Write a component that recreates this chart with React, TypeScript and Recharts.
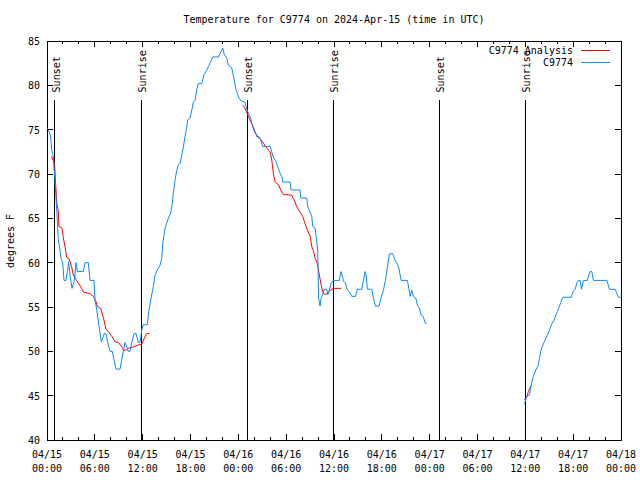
import React from 'react';
import { LineChart, Line, XAxis, YAxis, ReferenceLine, ReferenceArea } from 'recharts';

// plot frame (pixels) - matches the gnuplot page layout
const W = 640;
const H = 480;
const PLOT_LEFT = 47;
const PLOT_RIGHT = 621;
const PLOT_TOP = 41;
const PLOT_BOTTOM = 440;

const FONT = '"DejaVu Sans Mono", monospace';
const RED = '#ff0000';
const BLUE = '#0a88ff';

// hours since 04/15 00:00 UTC, degrees F
const analysisMorning: [number, number][] = [
    [0.55, 72], [0.95, 71.2], [1.1, 68.6], [1.25, 66.5], [1.42, 65.9], [1.5, 64.1], [1.88, 63.9],
    [2.05, 62.8], [2.26, 61.8], [2.47, 60.6], [2.8, 60.4], [3.1, 59.5], [3.3, 58.6], [3.64, 58.1],
    [3.93, 57.7], [4.35, 57.1], [4.55, 56.7], [5.4, 56.5], [5.81, 56.2], [6.15, 55.6], [6.31, 55.1],
    [6.74, 54.8], [7.07, 53.8], [7.4, 52.5], [7.69, 52.2], [8.12, 51.7], [8.53, 51.1], [8.95, 51],
    [9.37, 50.5], [9.66, 50.1], [10.0, 50.2], [10.33, 50.4], [10.83, 50.5], [11.38, 50.7],
    [11.88, 50.8], [12.17, 51.4], [12.5, 52], [12.84, 52],
];

const analysisEvening: [number, number][] = [
    [24.55, 77.8], [24.84, 77.4], [25.13, 76.8], [25.34, 76.3], [25.68, 75.7], [26.01, 74.8],
    [26.44, 74.2], [26.73, 74], [27.14, 73.5], [27.57, 72.9], [27.98, 72.5], [28.19, 71.6],
    [28.39, 70.1], [28.61, 69.1], [29.02, 68.8], [29.32, 68.2], [29.65, 67.7], [30.7, 67.6],
    [30.99, 67.1], [31.33, 66.3], [31.74, 65.7], [32.08, 65.2], [32.37, 64.4], [32.66, 63.7],
    [33.0, 63], [33.21, 61.8], [33.41, 61.4], [33.63, 60.5], [33.91, 59.9], [34.13, 58.8],
    [34.34, 57.7], [34.59, 56.7], [34.88, 56.4], [35.09, 56.5], [35.29, 56.7], [35.72, 57],
    [35.92, 57.1], [36.89, 57.1],
];

const analysisDay3: [number, number][] = [
    [59.89, 44.5], [60.19, 44.9], [60.39, 45.5], [60.69, 46.1], [60.82, 46.1],
];

const obsDays12: [number, number][] = [
    [0.0, 75.2], [0.25, 74.8], [0.46, 74.2], [0.59, 72.7], [0.79, 72], [0.88, 70.6], [1.0, 69.3],
    [1.09, 67.9], [1.29, 64.8], [1.42, 62.6], [1.63, 61.4], [1.76, 60.5], [1.97, 60], [2.13, 58],
    [2.38, 58], [2.55, 59], [2.72, 60.1], [2.89, 58.5], [3.14, 57.1], [3.43, 58], [3.64, 60],
    [3.8, 59], [4.55, 59], [4.77, 60], [5.18, 60], [5.4, 58], [5.9, 58], [6.02, 55.8],
    [6.24, 54.7], [6.56, 52.6], [6.81, 51.1], [6.99, 51.5], [7.19, 52], [7.4, 52], [7.62, 51],
    [7.9, 50], [8.19, 50], [8.41, 49], [8.66, 48], [9.16, 48], [9.37, 49], [9.57, 50], [9.79, 51],
    [10.0, 50.5], [10.2, 50], [10.41, 50], [10.63, 51], [10.92, 52], [11.17, 52], [11.46, 51],
    [11.67, 51], [11.88, 52.4], [12.08, 53], [12.58, 53], [12.8, 54.7], [13.01, 55.8],
    [13.34, 57.3], [13.55, 58.6], [13.84, 59.2], [14.18, 59.7], [14.39, 60.5], [14.52, 62.2],
    [14.81, 63.9], [15.22, 65], [15.52, 65.6], [15.72, 66.7], [15.85, 67.9], [16.06, 69.3],
    [16.27, 70.4], [16.47, 71], [16.69, 71.2], [16.9, 72.1], [17.1, 73], [17.31, 74.2],
    [17.53, 75.3], [17.65, 76.1], [17.94, 76.3], [18.16, 77.2], [18.36, 78.1], [18.57, 78.3],
    [18.78, 79.5], [18.98, 80.2], [19.41, 80.2], [19.7, 81.2], [20.04, 81.7], [20.24, 82.1],
    [20.45, 82.5], [20.79, 83.2], [21.49, 83.2], [21.71, 83.6], [22.05, 84.2], [22.25, 83.4],
    [22.55, 83.1], [22.75, 82.3], [23.17, 82], [23.38, 81], [23.71, 79.5], [23.88, 79.1],
    [24.13, 78.5], [24.43, 78.2], [24.84, 78.1], [25.13, 77.1], [25.34, 76.7], [25.56, 76.3],
    [25.68, 75.7], [25.88, 75.3], [26.1, 74.8], [26.31, 74.2], [26.6, 74.2], [26.81, 73.8],
    [27.06, 73.1], [27.98, 73.1], [28.19, 72.5], [28.39, 71.9], [28.73, 71.4], [29.02, 70.6],
    [29.23, 70.1], [29.45, 69.7], [29.57, 69.1], [30.49, 69.1], [30.61, 68.2], [31.74, 68.2],
    [31.83, 67.3], [32.58, 67.3], [32.71, 66.3], [33.0, 65.7], [33.21, 65.2], [33.34, 64.1],
    [33.63, 63.9], [33.75, 63], [33.96, 61.4], [34.06, 56], [34.25, 55.1], [34.38, 56],
    [34.59, 56.4], [34.76, 57], [35.09, 57], [35.22, 56.4], [35.42, 56.9], [35.63, 57.7],
    [35.92, 58], [36.68, 58], [36.85, 59], [37.01, 58.6], [37.23, 57.9], [37.43, 57.7],
    [37.68, 56.9], [37.93, 56.7], [38.23, 56.2], [38.68, 56.2], [38.93, 57], [39.49, 57],
    [39.69, 58], [39.9, 59], [40.03, 58.6], [40.19, 57], [40.74, 57], [40.94, 56], [41.19, 55.1],
    [41.66, 55.1], [41.87, 56], [42.2, 56.9], [42.45, 58], [42.7, 59.5], [42.95, 61],
    [43.38, 61], [43.63, 60.3], [43.88, 60], [44.13, 59.4], [44.42, 58], [45.21, 58],
    [45.38, 57.1], [45.55, 56.2], [45.76, 56.9], [45.96, 56.2], [46.26, 56], [46.46, 55.2],
    [46.71, 54.9], [46.93, 54.1], [47.21, 53.9], [47.43, 53.2], [47.64, 53.1],
];

const obsDay3: [number, number][] = [
    [59.89, 44.1], [60.19, 44.9], [60.52, 45.1], [60.69, 46], [60.94, 47], [61.14, 47.5],
    [61.36, 48], [61.57, 48.3], [61.77, 49.2], [61.98, 50.2], [62.2, 50.7], [62.4, 51.1],
    [62.7, 51.7], [62.9, 52.1], [63.11, 52.6], [63.32, 53.1], [63.61, 53.5], [63.83, 54.1],
    [64.03, 54.5], [64.24, 55], [64.45, 55.5], [64.7, 56.1], [65.78, 56.1], [65.96, 56.7],
    [66.25, 57], [66.46, 57.7], [66.66, 58], [66.88, 58], [67.04, 57], [67.29, 58], [67.79, 58],
    [67.97, 58.6], [68.13, 59], [68.34, 59], [68.54, 58], [70.23, 58], [70.55, 57], [71.27, 57],
    [71.48, 56.5], [71.68, 56.1], [71.98, 56.1],
];

const sunEvents: [number, string][] = [
    [1.0, 'Sunset'], [11.8, 'Sunrise'], [25.1, 'Sunset'],
    [35.9, 'Sunrise'], [49.2, 'Sunset'], [60.0, 'Sunrise'],
];
const SUN_LINE_TOP = 78.3;

const xTicks = [0, 2, 4, 6, 8, 10, 12, 14, 16, 18, 20, 22, 24, 26, 28, 30, 32, 34, 36, 38, 40, 42, 44, 46, 48, 50, 52, 54, 56, 58, 60, 62, 64, 66, 68, 70, 72];
const xTickLabels: Record<number, [string, string]> = {
    0: ['04/15', '00:00'], 6: ['04/15', '06:00'], 12: ['04/15', '12:00'], 18: ['04/15', '18:00'],
    24: ['04/16', '00:00'], 30: ['04/16', '06:00'], 36: ['04/16', '12:00'], 42: ['04/16', '18:00'],
    48: ['04/17', '00:00'], 54: ['04/17', '06:00'], 60: ['04/17', '12:00'], 66: ['04/17', '18:00'],
    72: ['04/18', '00:00'],
};
const yTicks = [40, 45, 50, 55, 60, 65, 70, 75, 80, 85];

const toRows = (pts: [number, number][]) => pts.map(([h, v]) => ({ h, v }));

function HourTick(props: any) {
    const { x, payload } = props;
    const label = xTickLabels[payload.value];
    const len = label ? 6 : 3;
    return (
        <g>
            <line x1={x} x2={x} y1={PLOT_BOTTOM} y2={PLOT_BOTTOM - len} stroke="#000" shapeRendering="crispEdges" />
            <line x1={x} x2={x} y1={PLOT_TOP} y2={PLOT_TOP + len} stroke="#000" shapeRendering="crispEdges" />
            {label && (
                <text x={x} y={PLOT_BOTTOM + 18} textAnchor="middle" fontFamily={FONT} fontSize={10} fill="#000">
                    <tspan x={x}>{label[0]}</tspan>
                    <tspan x={x} dy={14}>{label[1]}</tspan>
                </text>
            )}
        </g>
    );
}

function TempTick(props: any) {
    const { y, payload } = props;
    return (
        <g>
            <line x1={PLOT_LEFT} x2={PLOT_LEFT + 6} y1={y} y2={y} stroke="#000" shapeRendering="crispEdges" />
            <line x1={PLOT_RIGHT} x2={PLOT_RIGHT - 6} y1={y} y2={y} stroke="#000" shapeRendering="crispEdges" />
            <text x={PLOT_LEFT - 7} y={y + 4} textAnchor="end" fontFamily={FONT} fontSize={10} fill="#000">
                {payload.value}
            </text>
        </g>
    );
}

function SunLabel(props: any) {
    const { viewBox, text } = props;
    if (!viewBox) return null;
    const x = viewBox.x + 5;
    const y = viewBox.y - 8;
    return (
        <text x={x} y={y} transform={`rotate(-90 ${x} ${y})`} fontFamily={FONT} fontSize={10} fill="#000">
            {text}
        </text>
    );
}

export default function App() {
    const series = [
        { data: analysisMorning, color: RED },
        { data: analysisEvening, color: RED },
        { data: analysisDay3, color: RED },
        { data: obsDays12, color: BLUE },
        { data: obsDay3, color: BLUE },
    ];

    return (
        <div style={{ position: 'absolute', left: 0, top: 0, width: W, height: H, background: '#fff' }}>
            <LineChart
                width={W}
                height={H}
                margin={{ top: PLOT_TOP, right: W - PLOT_RIGHT, left: 0, bottom: 0 }}
            >
                <XAxis
                    dataKey="h"
                    type="number"
                    domain={[0, 72]}
                    ticks={xTicks}
                    interval={0}
                    allowDataOverflow
                    axisLine={false}
                    tickLine={false}
                    height={H - PLOT_BOTTOM}
                    tick={<HourTick />}
                />
                <YAxis
                    type="number"
                    domain={[40, 85]}
                    ticks={yTicks}
                    interval={0}
                    allowDataOverflow
                    axisLine={false}
                    tickLine={false}
                    width={PLOT_LEFT}
                    tick={<TempTick />}
                />
                <ReferenceArea
                    x1={0}
                    x2={72}
                    y1={40}
                    y2={85}
                    fill="none"
                    fillOpacity={0}
                    stroke="#000"
                    strokeOpacity={1}
                    shapeRendering="crispEdges"
                />
                {sunEvents.map(([h, name], i) => (
                    <ReferenceLine
                        key={'sun' + i}
                        segment={[{ x: h, y: 40 }, { x: h, y: SUN_LINE_TOP }]}
                        stroke="#000"
                        strokeWidth={1}
                        shapeRendering="crispEdges"
                        label={<SunLabel text={name} />}
                    />
                ))}
                {series.map((s, i) => (
                    <Line
                        key={'s' + i}
                        data={toRows(s.data)}
                        dataKey="v"
                        type="linear"
                        stroke={s.color}
                        strokeWidth={1}
                        dot={false}
                        activeDot={false}
                        isAnimationActive={false}
                    />
                ))}
            </LineChart>
            <svg
                width={W}
                height={H}
                style={{ position: 'absolute', left: 0, top: 0, pointerEvents: 'none' }}
            >
                <text x={(PLOT_LEFT + PLOT_RIGHT) / 2} y={23} textAnchor="middle" fontFamily={FONT} fontSize={10} fill="#000">
                    Temperature for C9774 on 2024-Apr-15 (time in UTC)
                </text>
                <text x={14} y={241} transform="rotate(-90 14 241)" textAnchor="middle" fontFamily={FONT} fontSize={10} fill="#000">
                    degrees F
                </text>
                <text x={573} y={54} textAnchor="end" fontFamily={FONT} fontSize={10} fill="#000">C9774 Analysis</text>
                <line x1={581} x2={610} y1={50} y2={50} stroke={RED} shapeRendering="crispEdges" />
                <text x={573} y={66} textAnchor="end" fontFamily={FONT} fontSize={10} fill="#000">C9774</text>
                <line x1={581} x2={610} y1={62} y2={62} stroke={BLUE} shapeRendering="crispEdges" />
            </svg>
        </div>
    );
}
